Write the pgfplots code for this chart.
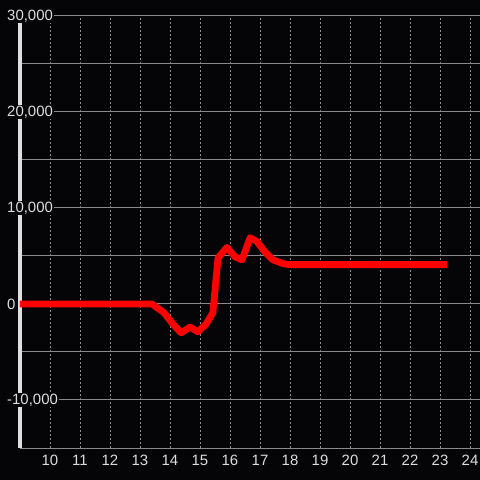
\documentclass[border=0pt]{standalone}
\usepackage{pgfplots}
\pgfplotsset{compat=1.18}
\usepackage{fontspec}
\setmainfont{Liberation Sans}
\definecolor{bg}{HTML}{050407}
\definecolor{gridgray}{HTML}{8A8A8A}
\definecolor{vgray}{HTML}{8C8C8C}
\definecolor{txt}{HTML}{DDDDDD}
\definecolor{axwhite}{HTML}{E0E0E0}
\begin{document}
\begin{tikzpicture}
\useasboundingbox[fill=bg] (-20bp,-32bp) rectangle (460bp,448bp);
\begin{axis}[
  scale only axis,
  width=460bp, height=432bp,
  xmin=9, xmax=24.3333,
  ymin=-15000, ymax=30000,
  scaled y ticks=false,
  axis lines*=left,
  x axis line style={draw=gridgray, line width=1bp},
  y axis line style={draw=axwhite, line width=3bp},
  tick style={draw=none},
  major tick length=0pt,
  xtick={10,11,...,24},
  ytick={-10000,10000,20000,30000},
  yticklabels={{-10,000},{10,000},{20,000},{30,000}},
  minor ytick={-15000,-5000,5000,15000,25000},
  extra y ticks={0},
  extra y tick labels={0},
  extra y tick style={grid=major, major grid style={draw=axwhite, line width=3bp, solid}},
  ymajorgrids, yminorgrids, xmajorgrids,
  y grid style={draw=gridgray, line width=1bp},
  x grid style={draw=vgray, line width=1bp, dash pattern=on 2bp off 2bp},
  /pgf/number format/assume math mode=true,
  ticklabel style={font=\fontsize{15}{17}\selectfont, text=txt},
  yticklabel style={anchor=west, xshift=-14bp, fill=bg, inner sep=1bp},
  xticklabel style={inner sep=1bp, yshift=-6bp},
  clip=false,
]
\addplot[draw=red, line width=6.8bp, line join=round, line cap=butt] coordinates {
(9,0) (13.4,0) (13.8,-900) (14.1,-2100) (14.37,-3000) (14.67,-2400) (14.93,-2900)
(15.2,-2100) (15.43,-900) (15.6,4800) (15.9,5900) (16.17,4900) (16.4,4600)
(16.67,6900) (16.9,6500) (17.17,5400) (17.43,4600) (17.77,4200) (18.0,4100) (23.23,4100)
};
\end{axis}
\end{tikzpicture}
\end{document}
